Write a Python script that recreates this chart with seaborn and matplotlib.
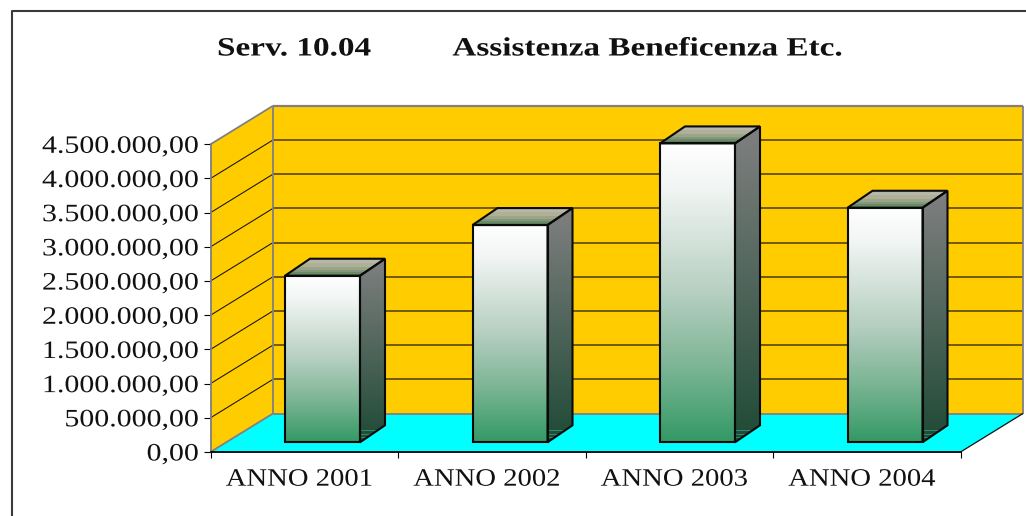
import numpy as np
import pandas as pd
import seaborn as sns
import matplotlib
matplotlib.use("Agg")
import matplotlib.pyplot as plt
from matplotlib.colors import LinearSegmentedColormap, ListedColormap
from matplotlib.lines import Line2D
from matplotlib.patches import Polygon
from matplotlib.patheffects import AbstractPathEffect
from matplotlib.ticker import FuncFormatter
from matplotlib.transforms import Affine2D, IdentityTransform

TITLE = "Serv. 10.04          Assistenza Beneficenza Etc."
CATEGORIES = ["ANNO 2001", "ANNO 2002", "ANNO 2003", "ANNO 2004"]
VALUES = [2436000, 3177000, 4371000, 3430000]
Y_TICKS = [0, 500000, 1000000, 1500000, 2000000, 2500000, 3000000, 3500000, 4000000, 4500000]

W, H, DPI = 1026, 516, 100
WALL_DX, WALL_DY = 62.5, 38.5     # depth of the chart box, px
BAR_DX, BAR_DY = 18.25, 9.7       # front of the bars behind the front plane, px
SIDE_DX, SIDE_DY = 25.0, 17.0     # depth of a bar, px
YELLOW, CYAN, EDGE = "#FFCC00", "#00FFFF", "#808080"


class StretchX(AbstractPathEffect):
    """Widen real text horizontally (the reference is stretched anamorphically)."""
    def __init__(self, k=1.0, src=0.0, dst=0.0):
        super().__init__()
        self.k, self.src, self.dst = k, src, dst

    def draw_path(self, renderer, gc, tpath, affine, rgbFace=None):
        a = affine + Affine2D().translate(-self.src, 0).scale(self.k, 1).translate(self.dst, 0)
        renderer.draw_path(gc, tpath, a, rgbFace)


sns.set_theme(style="white")
plt.rcParams["font.family"] = ["Liberation Serif", "DejaVu Serif"]

fig = plt.figure(figsize=(W / DPI, H / DPI), dpi=DPI, facecolor="white")
ax = fig.add_axes([210.5 / W, (H - 452) / H, 750 / W, 307.7 / H], facecolor="none")

df = pd.DataFrame({"anno": CATEGORIES, "valore": VALUES})
sns.barplot(data=df, x="anno", y="valore", width=0.4, color="white", saturation=1,
            ax=ax, legend=False)
ax.set_xlim(-0.5, len(CATEGORIES) - 0.5)
ax.set_ylim(Y_TICKS[0], Y_TICKS[-1])
ax.set_autoscale_on(False)
ax.set_xlabel("")
ax.set_ylabel("")

fmt = lambda v, _: f"{v:,.2f}".replace(",", "#").replace(".", ",").replace("#", ".")
ax.set_yticks(Y_TICKS)
ax.yaxis.set_major_formatter(FuncFormatter(fmt))
ax.set_xticks(np.arange(len(CATEGORIES) + 1) - 0.5)
ax.set_xticklabels([])
ax.set_xticks(np.arange(len(CATEGORIES)), CATEGORIES, minor=True)
ax.tick_params(axis="y", left=True, length=5, width=0.8, color="black", pad=8,
               labelsize=18, labelcolor="#111111")
ax.tick_params(axis="x", which="major", bottom=True, length=4, width=0.8, color="black")
ax.tick_params(axis="x", which="minor", bottom=False, length=0, pad=12,
               labelsize=18, labelcolor="#111111")
for s in ["top", "right"]:
    ax.spines[s].set_visible(False)
ax.spines["left"].set(color=EDGE, linewidth=1.3, zorder=3)
ax.spines["bottom"].set(color="black", linewidth=1.3, zorder=3)

px = IdentityTransform()
to_px = ax.transData.transform
x0, x1 = -0.5, len(CATEGORIES) - 0.5


def poly(pts, **kw):
    p = Polygon(pts, closed=True, transform=px, clip_on=False, **kw)
    ax.add_patch(p)
    return p


def line(pts, color, lw, z=2):
    ax.add_line(Line2D(*zip(*pts), transform=px, color=color, linewidth=lw, clip_on=False,
                       zorder=z, solid_capstyle="butt"))


# Box: floor, back wall, side wall
fl, fr = to_px((x0, 0)), to_px((x1, 0))
tl = to_px((x0, Y_TICKS[-1]))
d = np.array([WALL_DX, WALL_DY])
poly([fl, fr, fr + d, fl + d], facecolor=CYAN, edgecolor="none", zorder=0.5)
poly([fl + d, fr + d, [fr[0] + d[0], tl[1] + d[1]], tl + d], facecolor=YELLOW, edgecolor="none", zorder=0.5)
poly([fl, fl + d, tl + d, tl], facecolor=YELLOW, edgecolor="none", zorder=0.5)
for v in Y_TICKS[1:-1]:
    a, b = to_px((x0, v)), to_px((x1, v))
    line([a + d, b + d], "#4a3c00", 1.1, 1)
    line([a, a + d], "#111111", 0.75, 1)
line([fl, fl + d], EDGE, 1.3)
line([fl + d, fr + d], EDGE, 1.3)
line([tl, tl + d], EDGE, 1.3)
line([tl + d, [fr[0] + d[0], tl[1] + d[1]]], EDGE, 1.6)
line([fl + d, tl + d], EDGE, 1.3)
line([fr + d, [fr[0] + d[0], tl[1] + d[1]]], EDGE, 1.3)
line([fr, fr + d], "#111111", 0.9)

# Bars
front_cm = LinearSegmentedColormap.from_list(
    "front", [(0, "#ffffff"), (0.15, "#f1f5f3"), (0.5, "#b6cfc1"), (0.75, "#7cb594"), (1, "#339966")])
side_cm = LinearSegmentedColormap.from_list("side", ["#808080", "#1f4a36"])
top_cm = ListedColormap(["#b4b4a8", "#b9b7aa", "#aeb09e", "#b2b08e", "#9aa48a", "#83987a",
                         "#6a8a66", "#56805a"])
ramp = np.linspace(0, 1, 256)[:, None]
rows = np.linspace(0, 1, 8)[:, None]

for bar in ax.patches:
    if not isinstance(bar, matplotlib.patches.Rectangle) or bar.get_width() > 1:
        continue
    l, w, h = bar.get_x(), bar.get_width(), bar.get_height()
    off = np.array([BAR_DX, BAR_DY])
    s = np.array([SIDE_DX, SIDE_DY])
    bl, br = to_px((l, 0)) + off, to_px((l + w, 0)) + off
    ul, ur = to_px((l, h)) + off, to_px((l + w, h)) + off

    bar.set_transform(ax.transData + Affine2D().translate(*off))
    bar.set(facecolor="none", edgecolor="#0a0a0a", linewidth=1.5, zorder=6, clip_on=False)

    side = [br, br + s, ur + s, ur]
    top = [ul, ur, ur + s, ul + s]
    poly(side, facecolor="none", edgecolor="#0a0a0a", linewidth=1.5, zorder=6)
    poly(top, facecolor="none", edgecolor="#0a0a0a", linewidth=1.5, zorder=6)

    faces = [
        (front_cm, ramp, (bl[0], br[0], bl[1], ul[1]), [bl, br, ur, ul], "bilinear"),
        (side_cm, ramp, (br[0], br[0] + s[0], br[1], ur[1] + s[1]), side, "bilinear"),
        (top_cm, rows, (ul[0], ur[0] + s[0], ul[1], ul[1] + s[1]), top, "nearest"),
    ]
    for cm, img, ext, outline, interp in faces:
        clip = poly(outline, facecolor="none", edgecolor="none", zorder=1)
        im = ax.imshow(img, cmap=cm, extent=ext, origin="upper", aspect="auto",
                       transform=px, zorder=4, interpolation=interp, vmin=0, vmax=1)
        im.set_clip_box(fig.bbox)
        im.set_clip_path(clip)
        im.set_clip_on(True)

    # banding at the foot of the side face
    for t in (0.3, 0.55, 0.8):
        a = br + np.array([0, t * 14 + 1])
        b = a + np.array([SIDE_DX, 0])
        ln = Line2D([a[0], b[0]], [a[1], b[1]], transform=px, color="#2c8c74", linewidth=0.7, zorder=5)
        ax.add_line(ln)
        ln.set_clip_box(fig.bbox)
        ln.set_clip_path(poly(side, facecolor="none", edgecolor="none", zorder=1))
        ln.set_clip_on(True)

ax.set_xlim(x0, x1)
ax.set_ylim(Y_TICKS[0], Y_TICKS[-1])

# Frame of the chart area (only left and top fall inside the picture)
fig.add_artist(Line2D([12 / W, 12 / W, 1.0], [0, 1 - 11 / H, 1 - 11 / H],
                      transform=fig.transFigure, color="#3a3a3a", linewidth=1.5))

title = fig.text(0.5, 1 - 49 / H, TITLE, ha="center", va="center", fontsize=19,
                 fontweight="bold", color="#111111")

# Horizontal stretch measured against the reference extents
fig.canvas.draw()
yl = [t for t in ax.get_yticklabels()]
ref = max(yl, key=lambda t: t.get_window_extent().width).get_window_extent()
ky = 157.0 / ref.width
for t in yl:
    bb = t.get_window_extent()
    t.set_path_effects([StretchX(ky, bb.x1, 199.0)])
for t in ax.get_xticklabels(minor=True):
    bb = t.get_window_extent()
    c = (bb.x0 + bb.x1) / 2
    t.set_path_effects([StretchX(147.0 / bb.width, c, c - 5.0)])
bb = title.get_window_extent()
title.set_path_effects([StretchX(625.0 / bb.width, bb.x0, 217.0)])

fig.savefig("out.png", dpi=DPI, facecolor="white")
